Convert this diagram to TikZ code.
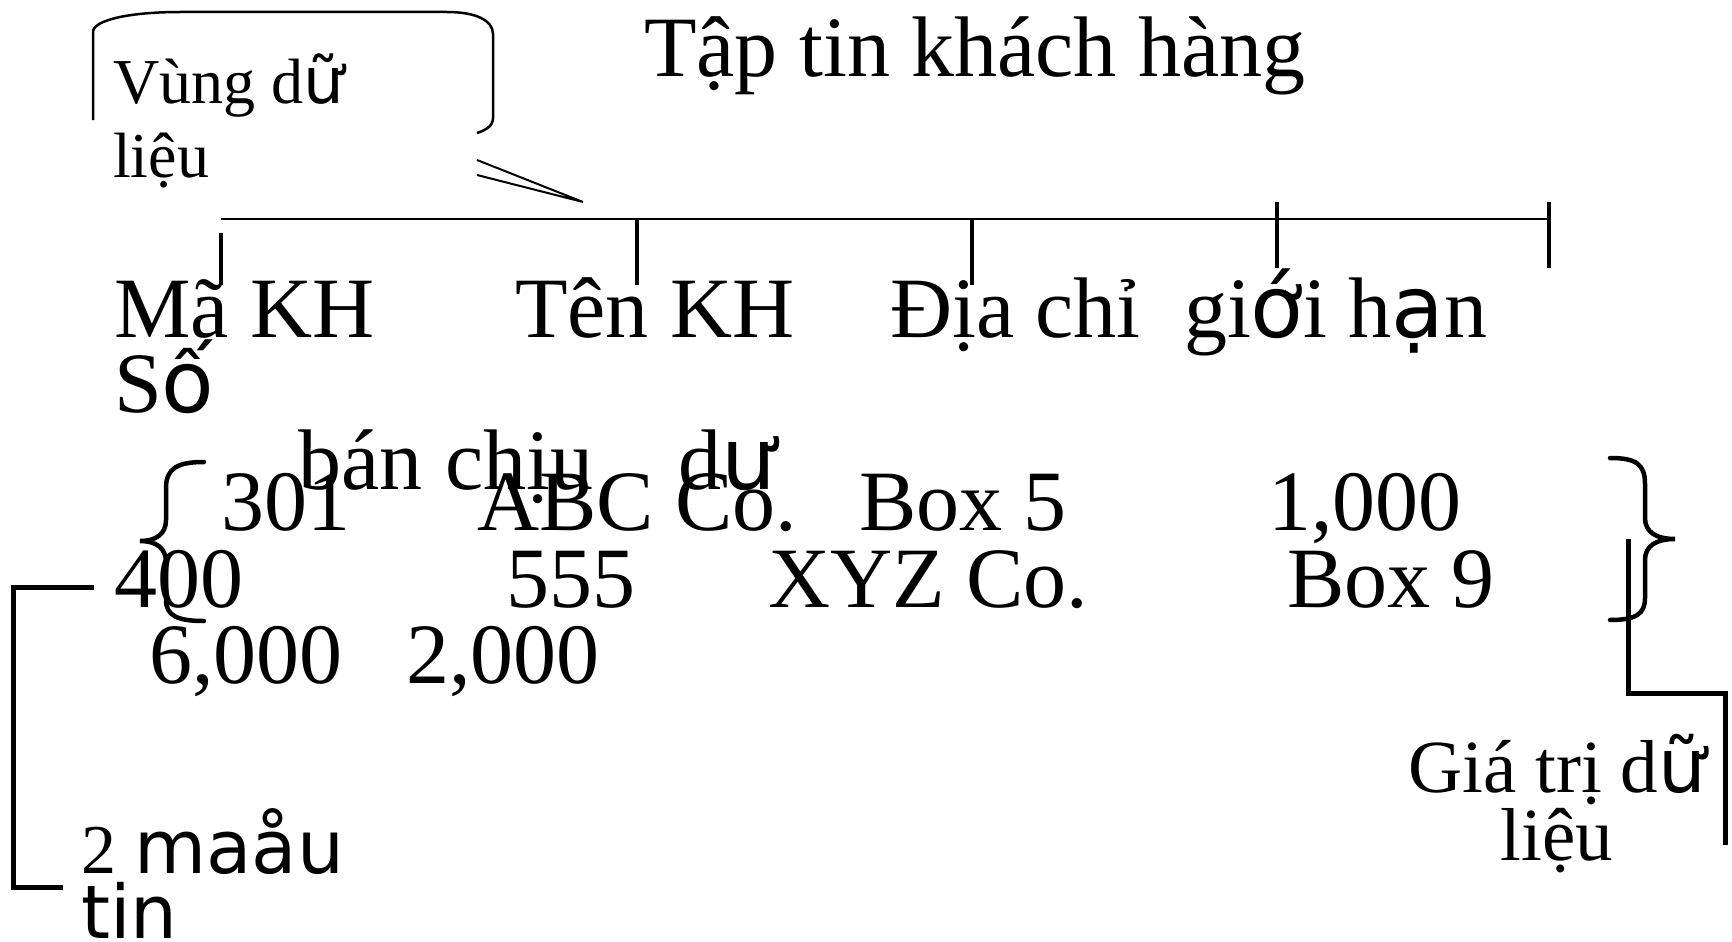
\documentclass[tikz,border=0pt]{standalone}
\usepackage{fontspec}
\setmainfont{Liberation Serif}
\newfontfamily\dv{DejaVu Sans}
\newcommand\fbig{\fontsize{86}{86}\selectfont}
\newcommand\fmid{\fontsize{75}{75}\selectfont}
\newcommand\fsmall{\fontsize{64}{64}\selectfont}
\newcommand\fsans{\fontsize{74}{74}\selectfont}
\begin{document}
\begin{tikzpicture}[x=1pt,y=-1pt]
\tikzset{
  txt/.style={inner sep=0pt, outer sep=0pt, anchor=base west, font=\fbig},
  txtsmall/.style={txt, font=\fsmall},
  txtmid/.style={inner sep=0pt, outer sep=0pt, anchor=base, font=\fmid},
  txtsans/.style={txt, font=\fsans},
  thin/.style={line width=2pt},
  axis/.style={line width=2.6pt},
  tick/.style={line width=4.5pt},
  brk/.style={line width=5pt},
  brace/.style={line width=4.5pt, line cap=round},
}
\useasboundingbox (0,0) rectangle (1732,942);

% title
\node[txt] (title) at (644,77) {Tập tin khách hàng};

% callout
\draw[line width=2.5pt] (93,120) -- (93,32) .. controls (93,20) and (130,12) .. (180,12)
  -- (447,12) .. controls (475,12) and (493,20) .. (493,34) -- (493,118)
  .. controls (493,126) and (486,130) .. (477,133);
\coordinate (tip) at (583,202);
\coordinate (w1) at (477,160);
\coordinate (w2) at (477,175);
\draw[thin] (w1) -- (tip) -- (w2);
\node[txtsmall] (vung) at (113,103) {Vùng d{\dv ữ}};
\node[txtsmall] (lieu1) at (113,177) {liệu};

% axis line and ticks
\coordinate (a0) at (221,219);
\coordinate (a1) at (1549,219);
\draw[axis] (a0) -- (a1);
\draw[tick] (221,233) -- (221,285);
\draw[tick] (637,218) -- (637,285);
\draw[tick] (972,218) -- (972,285);
\draw[tick] (1277,202) -- (1277,268);
\draw[tick] (1549,202) -- (1549,268);

% field names
\node[txt] (f1) at (114,337) {Mã KH};
\node[txt] (f2) at (515,337) {Tên KH};
\node[txt] (f3) at (890,337) {Địa chỉ};
\node[txt] (f4) at (1184,337) {gi{\dv ớ}i h{\dv ạ}n};
\node[txt] (f5) at (114,412) {S{\dv ố}};
\node[txt] (g1) at (298,489) {bán};
\node[txt] (g2) at (445,489) {chịu};
\node[txt] (g3) at (678,489) {d{\dv ư}};

% records
\node[txt] (r11) at (221,530) {301};
\node[txt] (r12) at (477,530) {ABC Co.};
\node[txt] (r13) at (859,530) {Box 5};
\node[txt] (r14) at (1268,530) {1,000};
\node[txt] (r21) at (114,607) {400};
\node[txt] (r22) at (506,607) {555};
\node[txt] (r23) at (768,607) {XYZ Co.};
\node[txt] (r24) at (1287,607) {Box 9};
\node[txt] (r31) at (149,683) {6,000};
\node[txt] (r32) at (406,683) {2,000};

% braces
\draw[brace] (204,462) .. controls (178,462) and (166,468) .. (166,488) -- (166,520)
  .. controls (166,534) and (156,541) .. (140,541)
  .. controls (156,541) and (166,548) .. (166,562) -- (166,600)
  .. controls (166,616) and (178,621) .. (204,621);
\draw[brace] (1610,458) .. controls (1636,458) and (1645,464) .. (1645,484) -- (1645,518)
  .. controls (1645,532) and (1656,539) .. (1675,539)
  .. controls (1656,539) and (1645,546) .. (1645,560) -- (1645,598)
  .. controls (1645,614) and (1636,620) .. (1610,620);

% brackets
\draw[brk] (94,587) -- (13,587) -- (13,887) -- (63,887);
\draw[brk] (1628,539) -- (1628,693) -- (1725,693) -- (1725,845);

% labels
\node[txtmid] (gt1) at (1557,792) {Giá trị d{\dv ữ}};
\node[txtmid] (gt2) at (1557,860) {liệu};
\node[txtsans] (m1) at (81,873) {{\rmfamily\fontsize{70}{70}\selectfont 2} {\dv maåu}};
\node[txtsans] (m2) at (81,938) {\dv tin};
\end{tikzpicture}
\end{document}
